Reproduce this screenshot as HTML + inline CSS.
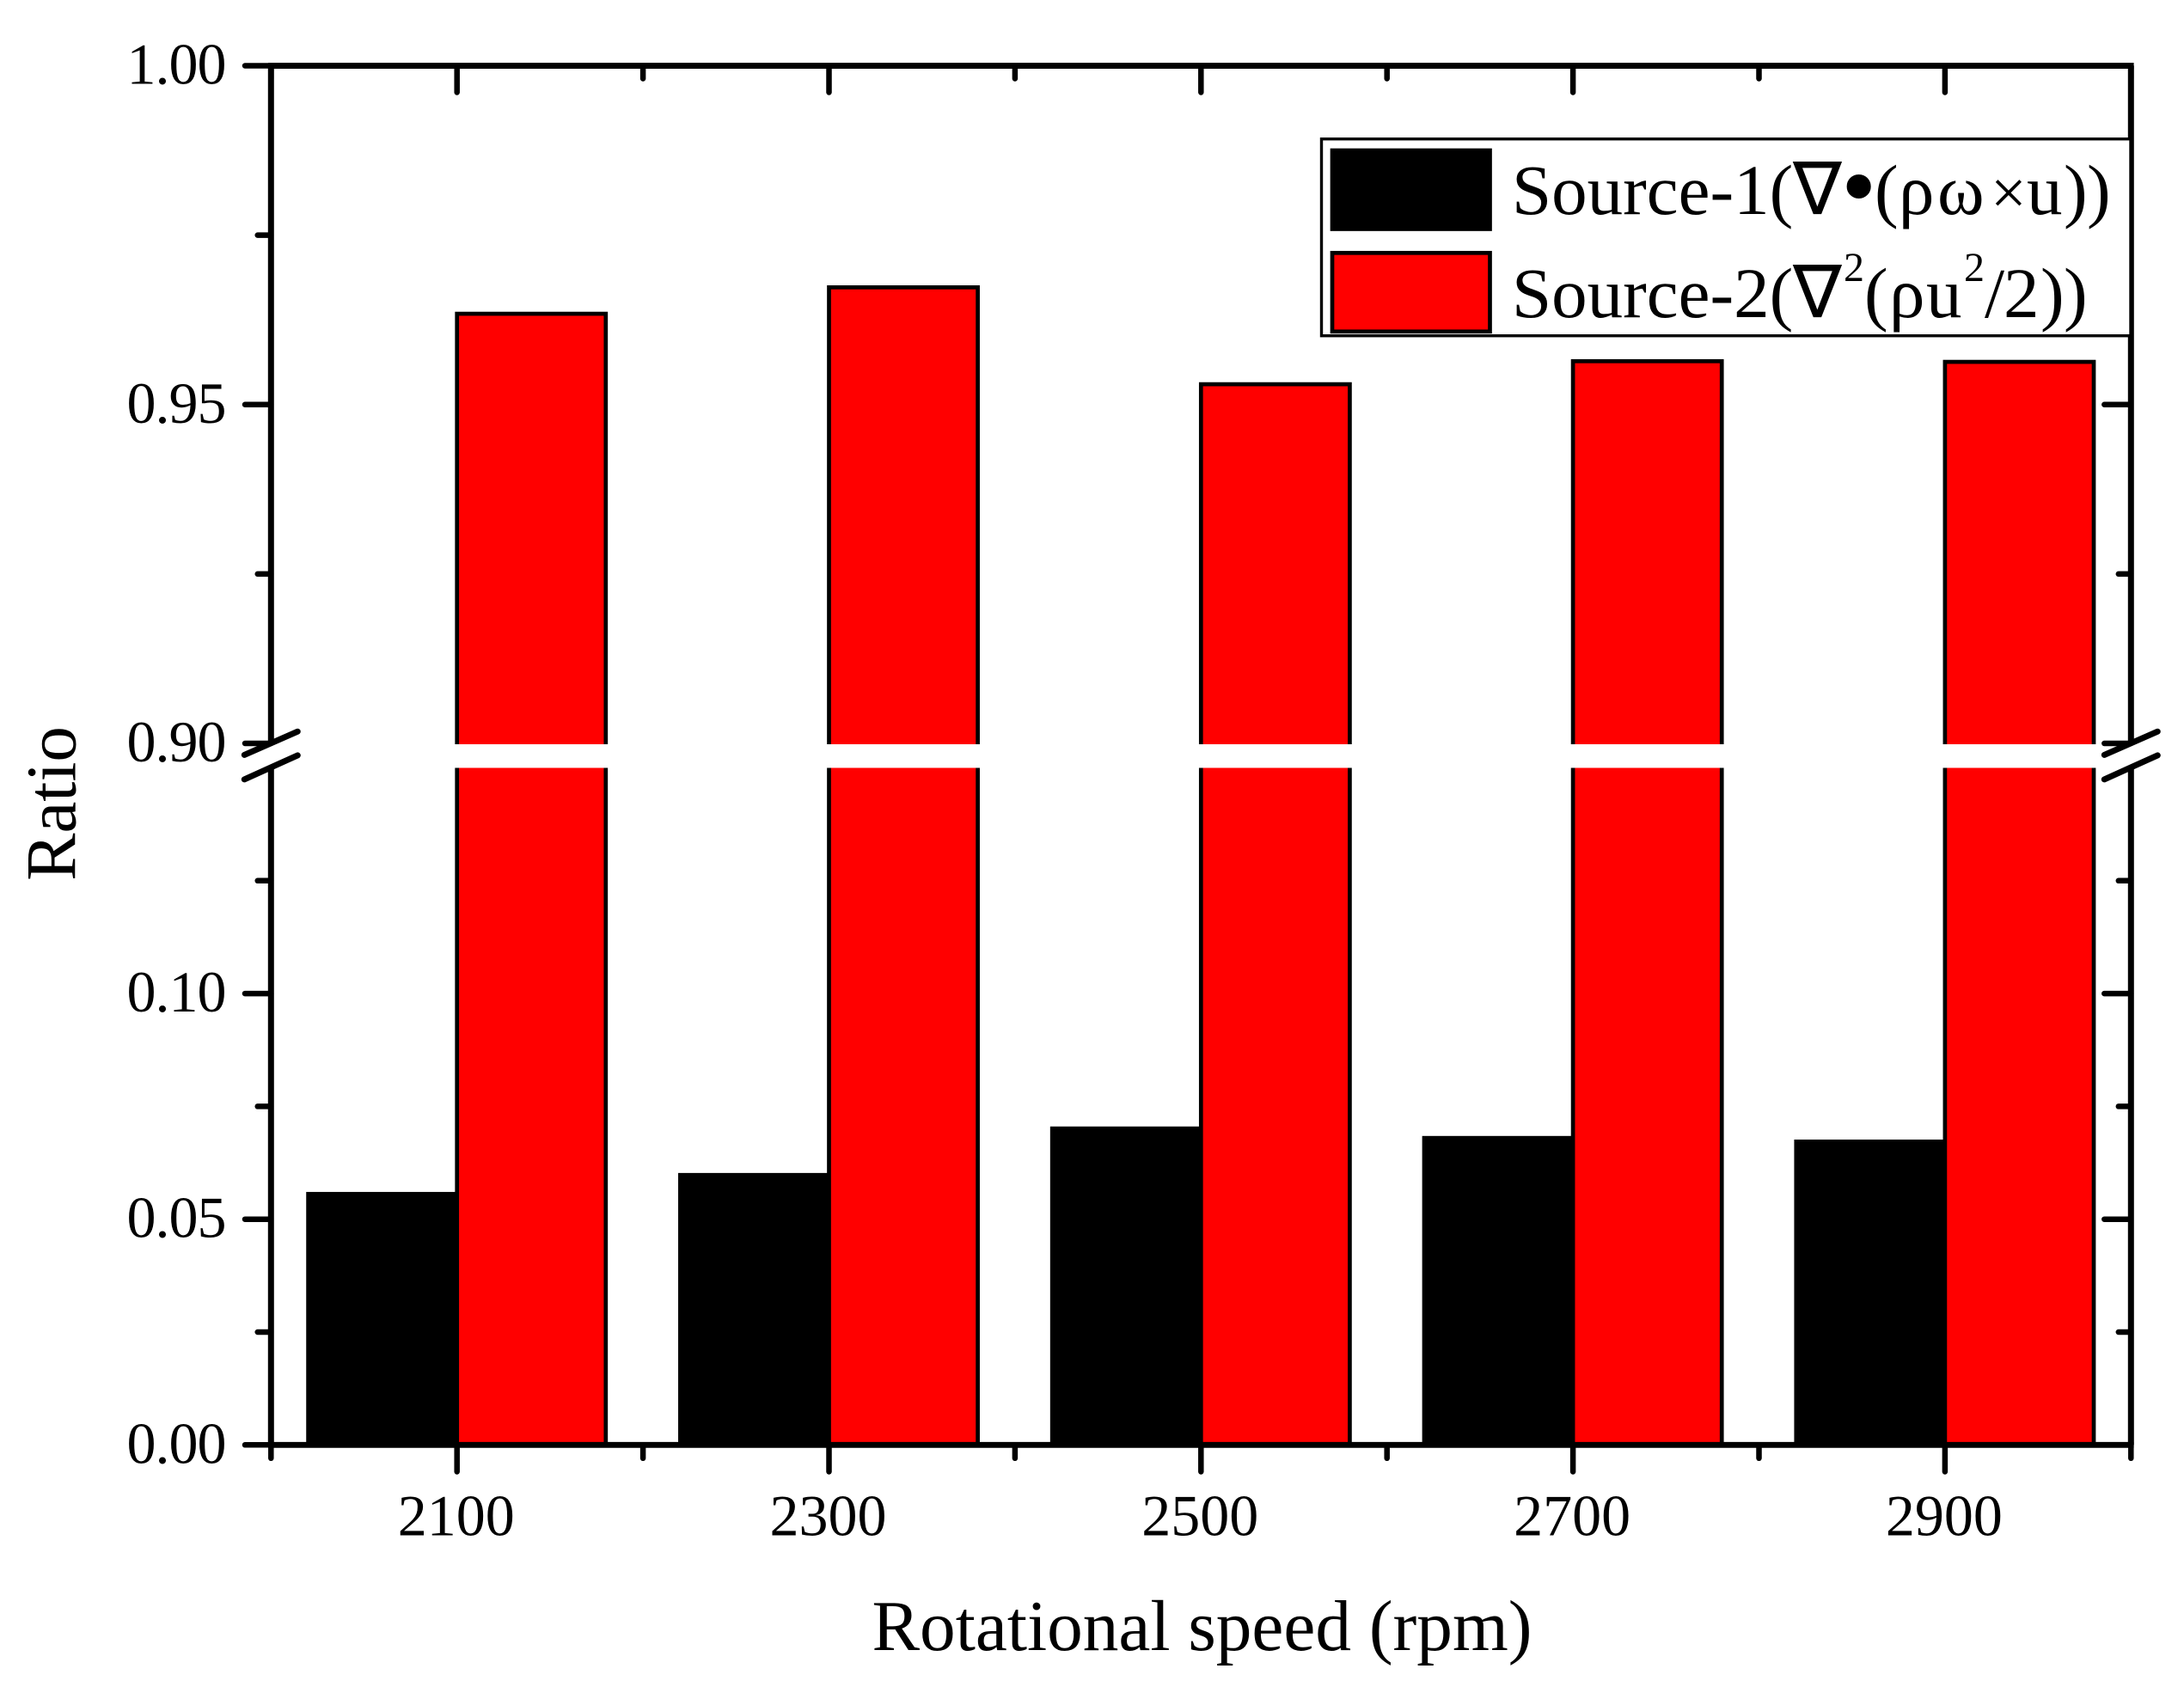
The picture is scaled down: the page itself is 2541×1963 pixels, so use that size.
<!DOCTYPE html>
<html lang="en">
<head>
<meta charset="utf-8">
<title>Ratio vs Rotational speed</title>
<style>
  html, body { margin: 0; padding: 0; background: #fff; }
  svg { display: block; font-family: "Liberation Serif", "DejaVu Serif", serif; fill: #000; }
</style>
</head>
<body>
<svg id="chart" xmlns="http://www.w3.org/2000/svg" width="2541" height="1963" viewBox="0 0 2541 1963">
  <rect x="0" y="0" width="2541" height="1963" fill="#fff"/>
  <g id="bars"></g>
  <g id="axes"></g>

  <text x="1398.5" y="1920" font-size="83.3" text-anchor="middle">Rotational speed (rpm)</text>
  <text transform="translate(87.7,935) rotate(-90)" font-size="83" text-anchor="middle">Ratio</text>

  <g>
    <rect x="1537.5" y="161.7" width="941.5" height="229" fill="#fff" stroke="#000" stroke-width="3.4"/>
    <rect x="1550" y="175" width="183.5" height="91.5" fill="#000" stroke="#000" stroke-width="4.7"/>
    <rect x="1550" y="294.3" width="183.5" height="91.5" fill="#f00" stroke="#000" stroke-width="4.7"/>
    <text y="249" font-size="83"><tspan x="1759">Source-1(</tspan><tspan x="2142" y="256" font-size="118">•</tspan><tspan x="2181" y="249">(</tspan><tspan x="2209">ρ</tspan><tspan x="2254">ω</tspan><tspan x="2316" font-size="74">×</tspan><tspan x="2358">u</tspan><tspan x="2401">)</tspan><tspan x="2428">)</tspan></text>
    <text x="2086" y="249" font-family="'DejaVu Sans', sans-serif" font-size="85">∇</text>
    <text y="369" font-size="83"><tspan x="1759">Source-2(</tspan><tspan x="2145" y="327" font-size="48">2</tspan><tspan x="2169" y="369">(</tspan><tspan x="2198">ρ</tspan><tspan x="2241">u</tspan><tspan x="2285" y="327" font-size="48">2</tspan><tspan x="2309" y="369">/</tspan><tspan x="2331">2</tspan><tspan x="2374">)</tspan><tspan x="2401">)</tspan></text>
    <text x="2086" y="369" font-family="'DejaVu Sans', sans-serif" font-size="85">∇</text>
  </g>
</svg>
<script>
const categories = [2100, 2300, 2500, 2700, 2900];
const source1Values = [0.0556, 0.0598, 0.0701, 0.0680, 0.0672];
const source2Values = [0.9634, 0.9673, 0.9530, 0.9564, 0.9563];
const yMajorTicks = [0, 0.05, 0.10, 0.90, 0.95, 1.00];
const yMajorLabels = ['0.00', '0.05', '0.10', '0.90', '0.95', '1.00'];
const yMinorTicks = [0.025, 0.075, 0.125, 0.925, 0.975];
const xMajorTicks = [2100, 2300, 2500, 2700, 2900];
const xMajorLabels = ['2100', '2300', '2500', '2700', '2900'];
const xMinorTicks = [2000, 2200, 2400, 2600, 2800, 3000];
const barWidthUnits = 80;

const SVG_NS = 'http://www.w3.org/2000/svg';
const barsGroup = document.getElementById('bars');
const axesGroup = document.getElementById('axes');

const xMin = 2000, xMax = 3000;
const plotLeft = 315.3, plotRight = 2479.3;
const plotTop = 76.5, plotBottom = 1681.3;
const breakLow = 0.15, breakHigh = 0.90;
const breakLowY = 893.5, breakHighY = 865;

function xScale(v) {
  return plotLeft + (v - xMin) * (plotRight - plotLeft) / (xMax - xMin);
}
function yScale(v) {
  if (v <= breakLow) return plotBottom - v * (plotBottom - breakLowY) / breakLow;
  if (v >= breakHigh) return breakHighY - (v - breakHigh) * (breakHighY - plotTop) / (1 - breakHigh);
  return breakLowY - (v - breakLow) * (breakLowY - breakHighY) / (breakHigh - breakLow);
}
function line(parent, x1, y1, x2, y2, width, cap) {
  const el = document.createElementNS(SVG_NS, 'line');
  el.setAttribute('x1', x1);
  el.setAttribute('y1', y1);
  el.setAttribute('x2', x2);
  el.setAttribute('y2', y2);
  el.setAttribute('stroke', '#000');
  el.setAttribute('stroke-width', width);
  el.setAttribute('stroke-linecap', cap);
  parent.appendChild(el);
  return el;
}
function bar(parent, v0, v1, value, fill) {
  const el = document.createElementNS(SVG_NS, 'rect');
  const x0 = xScale(v0), x1 = xScale(v1), top = yScale(value), bottom = yScale(0);
  el.setAttribute('x', x0);
  el.setAttribute('y', top);
  el.setAttribute('width', x1 - x0);
  el.setAttribute('height', bottom - top);
  el.setAttribute('fill', fill);
  el.setAttribute('stroke', '#000');
  el.setAttribute('stroke-width', 4.7);
  parent.appendChild(el);
  return el;
}
function label(parent, x, y, text, anchor) {
  const el = document.createElementNS(SVG_NS, 'text');
  el.setAttribute('x', x);
  el.setAttribute('y', y);
  el.setAttribute('font-size', 68);
  el.setAttribute('text-anchor', anchor);
  el.textContent = text;
  parent.appendChild(el);
  return el;
}

categories.forEach(function (cat, i) {
  const black = bar(barsGroup, cat - barWidthUnits, cat, source1Values[i], '#000');
  
  
});
categories.forEach(function (cat, i) {
  const red = bar(barsGroup, cat, cat + barWidthUnits, source2Values[i], '#f00');
  
  
});

const band = document.createElementNS(SVG_NS, 'rect');


band.setAttribute('x', plotLeft);
band.setAttribute('y', yScale(breakHigh) + 1);
band.setAttribute('width', plotRight - plotLeft);
band.setAttribute('height', yScale(breakLow) - yScale(breakHigh) - 1);
band.setAttribute('fill', '#fff');
barsGroup.appendChild(band);

const spineTop = line(axesGroup, plotLeft - 3.3, plotTop, plotRight + 3.3, plotTop, 7, 'butt');


const spineBottom = line(axesGroup, plotLeft - 3.3, plotBottom, plotRight + 3.3, plotBottom, 6.8, 'butt');



[plotLeft, plotRight].forEach(function (xp, side) {
  const upper = line(axesGroup, xp, plotTop, xp, yScale(breakHigh), 7, 'butt');
  
  
  const lower = line(axesGroup, xp, yScale(breakLow), xp, plotBottom, 7, 'butt');
  
  
  const slashA = line(axesGroup, xp - 31, yScale(breakHigh) + 13.4, xp + 31, yScale(breakHigh) - 13.8, 7, 'round');
  
  
  const slashB = line(axesGroup, xp - 31, yScale(breakLow) + 13.4, xp + 31, yScale(breakLow) - 14.6, 7, 'round');
  
  
});

yMajorTicks.forEach(function (v, i) {
  const yp = yScale(v);
  const tl = line(axesGroup, 285, yp, plotLeft, yp, 6.5, 'round');
  
  
  const tr = line(axesGroup, plotRight - 31, yp, plotRight, yp, 6.5, 'round');
  
  
  const tx = label(axesGroup, 262.5, yp + 21, yMajorLabels[i], 'end');
  tx.setAttribute('letter-spacing', '-1');
  
  
});
yMinorTicks.forEach(function (v) {
  const yp = yScale(v);
  const tl = line(axesGroup, 299.7, yp, plotLeft, yp, 6.5, 'round');
  
  
  const tr = line(axesGroup, plotRight - 14.5, yp, plotRight, yp, 6.5, 'round');
  
  
});
xMajorTicks.forEach(function (v, i) {
  const xp = xScale(v);
  const tb = line(axesGroup, xp, plotBottom, xp, 1712.5, 6.5, 'round');
  
  
  const tt = line(axesGroup, xp, plotTop, xp, 107.5, 6.5, 'round');
  
  
  const tx = label(axesGroup, xp - 1, 1786.7, xMajorLabels[i], 'middle');
  
  
});
xMinorTicks.forEach(function (v) {
  const xp = xScale(v);
  const tb = line(axesGroup, xp, plotBottom, xp, 1696.8, 6.5, 'round');
  
  
  const tt = line(axesGroup, xp, plotTop, xp, 91.5, 6.5, 'round');
  
  
});
</script>
</body>
</html>
